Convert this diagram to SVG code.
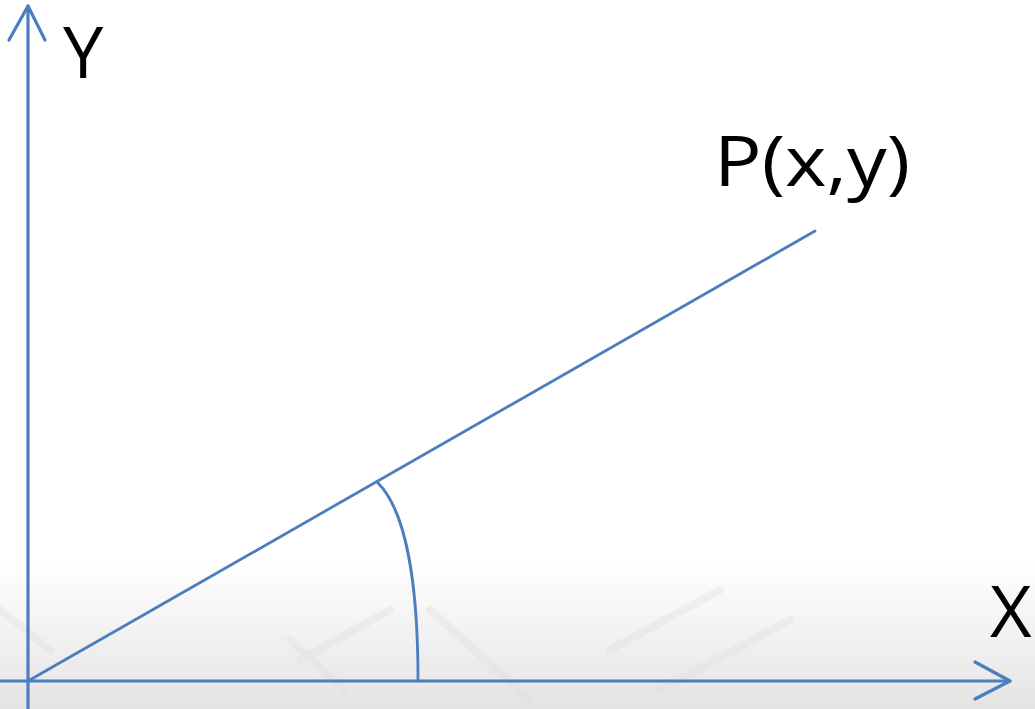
<svg xmlns="http://www.w3.org/2000/svg" width="1035" height="709" viewBox="0 0 1035 709">
<defs>
<linearGradient id="bg" x1="0" y1="0" x2="0" y2="1">
<stop offset="0" stop-color="#ffffff"/>
<stop offset="1" stop-color="#e4e4e4"/>
</linearGradient>
<style>
.ax{stroke:#4a7ebf;stroke-width:3.2;fill:none;stroke-linecap:round;stroke-linejoin:round}
.ln{stroke:#4a7ebf;stroke-width:2.8;fill:none;stroke-linecap:round}
.lbl{font-family:"Open Sans","Liberation Sans",sans-serif;fill:#000}
.key{fill:none;stroke:#dcdcdc;stroke-width:8;stroke-linecap:round}
</style>
</defs>
<rect width="1035" height="709" fill="#fff"/>
<rect x="0" y="560" width="1035" height="149" fill="url(#bg)"/>
<g id="keyboard" opacity="0.35">
<path class="key" d="M0 610 L50 650 M290 640 L345 690 M300 660 L390 610 M430 610 L530 700 M610 650 L720 590 M660 690 L790 620"/>
</g>
<g id="connectors">
<path id="y-axis" class="ax" d="M28 709 L28 6"/>
<path class="ax" d="M9 40 L28 6 L45 40"/>
<path id="x-axis" class="ax" d="M0 681 L1010 681"/>
<path class="ax" d="M975 662 L1010 681 L975 699"/>
<path id="ray" class="ln" d="M28 681 L815 231"/>
<path id="angle" class="ln" d="M378 483 C405 510 418 580 418 680"/>
</g>
<g id="label-y"><text class="lbl" x="63" y="78" font-size="72">Y</text></g>
<g id="label-p"><text class="lbl" x="714" y="186" font-size="70" textLength="196" lengthAdjust="spacingAndGlyphs">P(x,y)</text></g>
<g id="label-x"><text class="lbl" x="990" y="637" font-size="72">X</text></g>
</svg>
